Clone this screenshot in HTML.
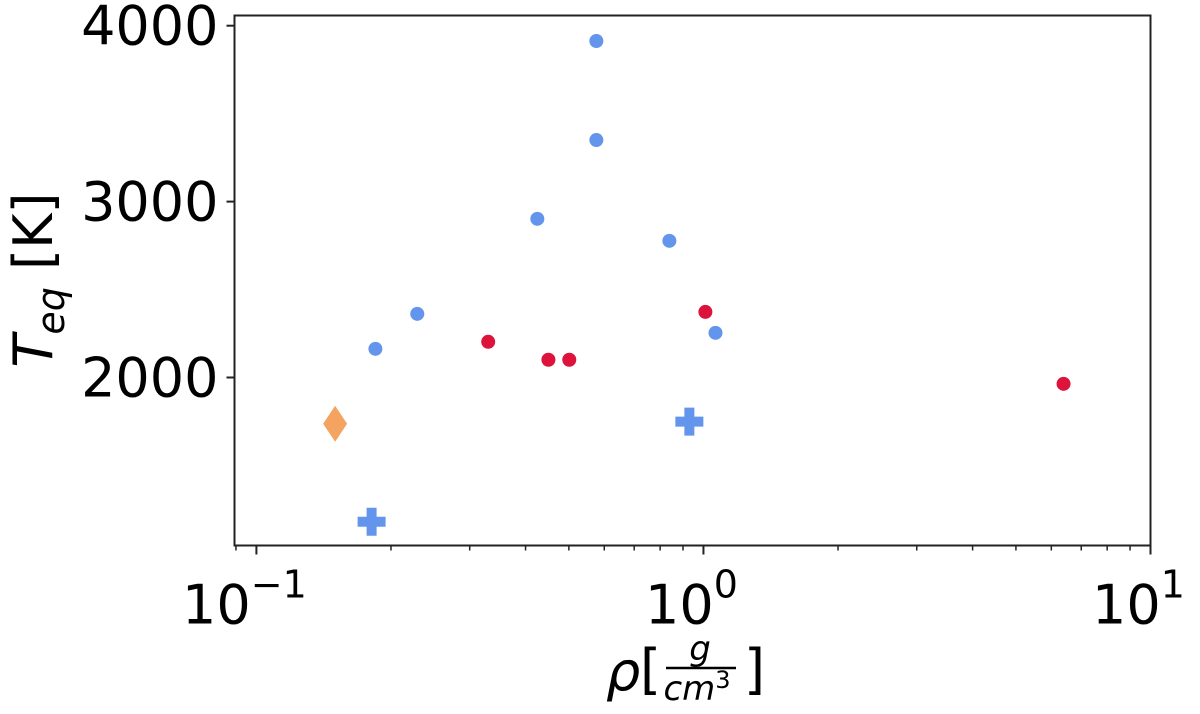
<!DOCTYPE html>
<html><head><meta charset="utf-8"><style>
body{margin:0;background:#fff}
svg{display:block;font-family:"DejaVu Sans","Liberation Sans",sans-serif}
</style></head><body>
<svg id="chart" width="1200" height="714" viewBox="0 0 1200 714">
<g id="ticks"></g>
<g id="marks"></g>
<rect x="234.5" y="15.5" width="916" height="530" fill="none" stroke="#222" stroke-width="2"/>
<g transform="translate(52,280) rotate(-90)">
<text x="0" y="0" text-anchor="middle" font-size="54"><tspan font-style="italic">T</tspan><tspan font-style="italic" font-size="38" dy="12">eq</tspan><tspan dy="-12"> [K]</tspan></text>
</g>
<g>
<text x="606" y="690" font-size="54" font-style="italic">ρ</text>
<text x="640" y="688" font-size="54">[</text>
<text x="700" y="660" font-size="34" font-style="italic" text-anchor="middle">g</text>
<line x1="666" y1="668" x2="736" y2="668" stroke="#000" stroke-width="2.5"/>
<text x="697" y="700" font-size="34" font-style="italic" text-anchor="middle">cm<tspan font-size="24" dy="-12" font-style="normal">3</tspan></text>
<text x="744" y="688" font-size="54">]</text>
</g>
</svg>
<script>
const blueX=[0.1846,0.229,0.425,0.576,0.576,0.839,1.064];
const blueY=[2163,2362,2902,3913,3350,2777,2254];
const redX=[0.330,0.450,0.501,1.01,6.39];
const redY=[2203,2101,2101,2373,1964];
const plusX=[0.181,0.93];
const plusY=[1180,1749];
const diamondX=[0.150];
const diamondY=[1737];
const xTickExp=[-1,0,1];
const yTicks=[2000,3000,4000];
const NS='http://www.w3.org/2000/svg';
const L=234.5,R=1150.5,T=15.5,B=545.5;
const xMinL=-1.049,xMaxL=1.0;
const yMin=1045,yMax=4058;
function sx(v){return L+(Math.log10(v)-xMinL)/(xMaxL-xMinL)*(R-L);}
function sy(v){return B-(v-yMin)/(yMax-yMin)*(B-T);}
function mk(tag,attrs,parent){const e=document.createElementNS(NS,tag);for(const k in attrs)e.setAttribute(k,attrs[k]);parent.appendChild(e);return e;}
const tg=document.getElementById('ticks'),mg=document.getElementById('marks');
xTickExp.forEach(p=>{const x=sx(Math.pow(10,p));
 const l=mk('line',{x1:x,y1:B,x2:x,y2:B+9,stroke:'#222','stroke-width':2},tg);
 
 
 const t=mk('text',{x:x-12,y:B+78,'font-size':54,'text-anchor':'middle'},tg);
 
 
 t.textContent='10';
 const s=mk('tspan',{dy:-26,'font-size':38},t);s.textContent=p<0?'\u2212'+(-p):String(p);
 if(p<1){for(let m=2;m<=9;m++){const xv=sx(m*Math.pow(10,p));
  const ml=mk('line',{x1:xv,y1:B,x2:xv,y2:B+5,stroke:'#222','stroke-width':1.5},tg);
  
  }}
});
const mm=mk('line',{x1:sx(0.09),y1:B,x2:sx(0.09),y2:B+5,stroke:'#222','stroke-width':1.5},tg);


yTicks.forEach(v=>{const y=sy(v);
 const l=mk('line',{x1:L-8,y1:y,x2:L,y2:y,stroke:'#222','stroke-width':2},tg);
 
 
 const t=mk('text',{x:L-16,y:y+19,'font-size':54,'text-anchor':'end'},tg);
 
 
 t.textContent=String(v);
});
blueX.forEach((v,i)=>{const c=mk('circle',{cx:sx(v),cy:sy(blueY[i]),r:7,fill:'#6495ed'},mg);
 
 });
redX.forEach((v,i)=>{const c=mk('circle',{cx:sx(v),cy:sy(redY[i]),r:7,fill:'#dc143c'},mg);
 
 });
plusX.forEach((v,i)=>{const x=sx(v),y=sy(plusY[i]);
 const p=mk('path',{d:`M${x-5},${y-14}h10v9h9v10h-9v9h-10v-9h-9v-10h9z`,fill:'#6495ed'},mg);
 
 });
diamondX.forEach((v,i)=>{const x=sx(v),y=sy(diamondY[i]);
 const p=mk('path',{d:`M${x},${y-18}L${x+12},${y}L${x},${y+18}L${x-12},${y}Z`,fill:'#f4a460'},mg);
 
 });
</script>
</body></html>
